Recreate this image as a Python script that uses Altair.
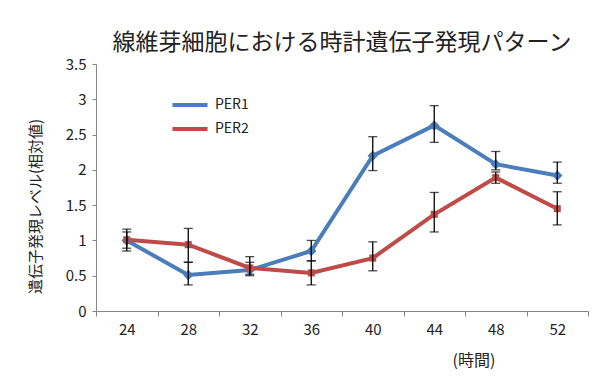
import altair as alt
import pandas as pd

times = [24, 28, 32, 36, 40, 44, 48, 52]
per1 = [1.00, 0.51, 0.58, 0.85, 2.20, 2.63, 2.08, 1.92]
per1_lo = [0.89, 0.37, 0.50, 0.71, 1.99, 2.39, 2.00, 1.81]
per1_hi = [1.12, 0.69, 0.69, 1.00, 2.47, 2.91, 2.26, 2.11]
per2 = [1.01, 0.94, 0.61, 0.54, 0.75, 1.37, 1.89, 1.45]
per2_lo = [0.85, 0.69, 0.52, 0.37, 0.57, 1.12, 1.81, 1.22]
per2_hi = [1.16, 1.17, 0.77, 0.71, 0.98, 1.68, 1.97, 1.69]
y_ticks = [0, 0.5, 1, 1.5, 2, 2.5, 3, 3.5]

rows = []
for s, v, lo, hi in [("PER1", per1, per1_lo, per1_hi), ("PER2", per2, per2_lo, per2_hi)]:
    for t, a, b, c in zip(times, v, lo, hi):
        rows.append({"time": str(t), "series": s, "value": a, "lo": b, "hi": c})
df = pd.DataFrame(rows)

FONT = "Noto Sans CJK JP"
colors = alt.Scale(domain=["PER1", "PER2"], range=["#4A7EBB", "#BE4B48"])
xaxis = alt.Axis(title="(時間)", labelAngle=0, tickBand="extent",
                 titleAnchor="start", titleX=356, titleY=41,
                 titleFontSize=16, titleFontWeight="normal",
                 labelFontSize=15, labelPadding=6, tickSize=5,
                 domainColor="#868686", tickColor="#868686",
                 labelColor="#222", titleColor="#222")
xenc = alt.X("time:N", sort=[str(t) for t in times],
             scale=alt.Scale(paddingInner=0, paddingOuter=0), axis=xaxis)
yaxis = alt.Axis(title="遺伝子発現レベル(相対値)", values=y_ticks, tickCount=8,
                 format="~g", grid=False, labelFontSize=15, tickSize=4,
                 titleFontSize=15, titleFontWeight="normal",
                 titleX=-61, titleY=142, titleAlign="center", titleBaseline="middle",
                 domainColor="#868686", tickColor="#868686", labelOverlap=False,
                 labelColor="#222", titleColor="#222", labelPadding=6)
yscale = alt.Scale(domain=[0, 3.5], nice=False)

def Y(field):
    return alt.Y(field, scale=yscale, axis=yaxis)

base = alt.Chart(df)

lines = base.mark_line(strokeWidth=4).encode(
    x=xenc,
    y=Y("value:Q"),
    color=alt.Color("series:N", scale=colors,
                    legend=alt.Legend(title=None, orient="none", legendX=82, legendY=29,
                                      symbolType="M-1.75,0L1.75,0", symbolStrokeWidth=4,
                                      symbolSize=400,
                                      labelFontSize=14, labelFont=FONT, rowPadding=4,
                                      labelOffset=13, labelColor="#222")),
)

pts1 = base.transform_filter(alt.datum.series == "PER1").mark_point(
    shape="diamond", filled=True, size=110, opacity=1).encode(
    x=xenc, y=Y("value:Q"), color=alt.Color("series:N", scale=colors, legend=None))
pts2 = base.transform_filter(alt.datum.series == "PER2").mark_point(
    shape="square", filled=True, size=50, opacity=1).encode(
    x=xenc, y=Y("value:Q"), color=alt.Color("series:N", scale=colors, legend=None))

err = base.mark_rule(color="black", strokeWidth=1.3).encode(
    x=xenc, y=Y("lo:Q"), y2="hi:Q")
cap_lo = base.mark_tick(color="black", thickness=1.3, size=9, orient="horizontal").encode(
    x=xenc, y=Y("lo:Q"))
cap_hi = base.mark_tick(color="black", thickness=1.3, size=9, orient="horizontal").encode(
    x=xenc, y=Y("hi:Q"))

chart = alt.layer(lines, pts1, pts2, err, cap_lo, cap_hi).properties(
    width=492, height=247,
    title=alt.Title("線維芽細胞における時計遺伝子発現パターン", fontSize=23, fontWeight="normal",
                    font=FONT, color="#222", anchor="middle", offset=2),
    autosize=alt.AutoSizeParams(type="none"),
    padding={"left": 88, "top": 56, "right": 5, "bottom": 72},
).configure(font=FONT).configure_view(stroke=None).configure_axis(labelFont=FONT, titleFont=FONT)

chart.save("out.html", embed_options={"renderer": "svg", "actions": False})
